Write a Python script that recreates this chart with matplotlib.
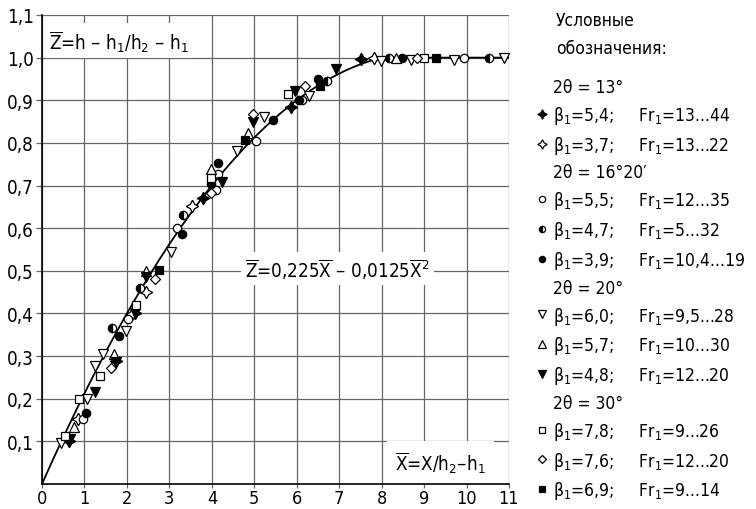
import matplotlib
matplotlib.use('Agg')
import matplotlib.pyplot as plt
from matplotlib import font_manager
from matplotlib.font_manager import FontProperties
from matplotlib.lines import Line2D
import numpy as np

# --- данные ---
# 2θ = 13°
x_54 = [0.63, 1.74, 2.18, 3.80, 5.87, 7.52]
z_54 = [0.102, 0.289, 0.401, 0.671, 0.885, 0.996]
x_37 = [0.84, 2.11, 2.46, 3.54, 7.81]
z_37 = [0.153, 0.399, 0.450, 0.652, 1.000]
# 2θ = 16°20'
x_55 = [0.96, 2.03, 3.17, 4.14, 4.11, 5.04, 6.13, 9.95]
z_55 = [0.153, 0.388, 0.601, 0.727, 0.690, 0.805, 0.900, 1.000]
x_47 = [1.65, 2.32, 3.31, 6.71, 8.17, 10.52]
z_47 = [0.365, 0.459, 0.630, 0.945, 1.000, 1.000]
x_39 = [1.04, 1.81, 3.30, 3.99, 4.15, 5.45, 6.05, 6.49, 8.49]
z_39 = [0.166, 0.348, 0.587, 0.704, 0.754, 0.854, 0.900, 0.951, 1.000]
# 2θ = 20°
x_60 = [0.44, 1.07, 1.26, 1.44, 1.99, 3.04, 4.59, 5.24, 6.29, 7.99, 8.68, 9.70, 10.89]
z_60 = [0.097, 0.199, 0.277, 0.304, 0.360, 0.543, 0.780, 0.861, 0.910, 0.992, 0.995, 0.995, 0.998]
x_57 = [0.75, 1.69, 2.45, 3.98, 4.85, 8.33]
z_57 = [0.134, 0.304, 0.499, 0.739, 0.823, 1.000]
x_48 = [0.67, 1.26, 1.74, 2.19, 2.45, 4.24, 4.98, 5.97, 6.92]
z_48 = [0.106, 0.215, 0.287, 0.402, 0.485, 0.708, 0.850, 0.922, 0.973]
# 2θ = 30°
x_78 = [0.55, 0.87, 1.36, 2.22, 3.98, 5.80, 8.99]
z_78 = [0.113, 0.199, 0.253, 0.421, 0.718, 0.915, 1.000]
x_76 = [1.63, 2.67, 3.98, 4.98, 6.20, 8.83]
z_76 = [0.272, 0.480, 0.682, 0.868, 0.933, 1.000]
x_69 = [2.76, 4.78, 6.54, 9.29]
z_69 = [0.502, 0.806, 0.934, 1.000]

# аппроксимация Z = a*X - b*X^2 (дальше Z = 1)
coef_a = 0.225
coef_b = 0.0125

x_ticks = list(range(0, 12))
y_ticks = [0.1, 0.2, 0.3, 0.4, 0.5, 0.6, 0.7, 0.8, 0.9, 1.0, 1.1]
y_ticklabels = ['0,1', '0,2', '0,3', '0,4', '0,5', '0,6', '0,7', '0,8', '0,9', '1,0', '1,1']

# шрифт: узкий, если есть
fam = 'DejaVu Sans'
path = font_manager.findfont(FontProperties(family=fam, stretch='condensed'))
if 'Condensed' in path:
    plt.rcParams['font.stretch'] = 'condensed'
    fs = 13.5
    lfs = 12.5
else:
    fs = 12
    lfs = 11
plt.rcParams['font.family'] = [fam]
plt.rcParams['mathtext.fontset'] = 'dejavusans'

fig = plt.figure(figsize=(7.56, 5.1), dpi=100)
ax = fig.add_axes([42 / 756, 1 - 485 / 510, 467 / 756, 469 / 510])

# кривая
X = np.linspace(0, 11, 400)
Xc = np.minimum(X, 9)
Z = np.minimum(coef_a * Xc - coef_b * Xc ** 2, 1.0)
ax.plot(X, Z, color='black', linewidth=1.3, zorder=3)

k = dict(color='black', linestyle='none', markeredgecolor='black', markeredgewidth=0.9, zorder=4)
series = [
    (x_54, z_54, dict(marker=(4, 1, 0), markersize=9, markerfacecolor='black')),
    (x_37, z_37, dict(marker=(4, 1, 0), markersize=9, markerfacecolor='white')),
    (x_55, z_55, dict(marker='o', markersize=6, markerfacecolor='white')),
    (x_47, z_47, dict(marker='o', markersize=6, fillstyle='left', markerfacecolor='black',
                      markerfacecoloralt='white')),
    (x_39, z_39, dict(marker='o', markersize=6, markerfacecolor='black')),
    (x_60, z_60, dict(marker='v', markersize=7, markerfacecolor='white')),
    (x_57, z_57, dict(marker='^', markersize=7, markerfacecolor='white')),
    (x_48, z_48, dict(marker='v', markersize=7, markerfacecolor='black')),
    (x_78, z_78, dict(marker='s', markersize=6, markerfacecolor='white')),
    (x_76, z_76, dict(marker='D', markersize=5.5, markerfacecolor='white')),
    (x_69, z_69, dict(marker='s', markersize=6, markerfacecolor='black')),
]
gap = '     '
labels = [
    'β$_1$=5,4;' + gap + 'Fr$_1$=13...44',
    'β$_1$=3,7;' + gap + 'Fr$_1$=13...22',
    'β$_1$=5,5;' + gap + 'Fr$_1$=12...35',
    'β$_1$=4,7;' + gap + 'Fr$_1$=5...32',
    'β$_1$=3,9;' + gap + 'Fr$_1$=10,4...19',
    'β$_1$=6,0;' + gap + 'Fr$_1$=9,5...28',
    'β$_1$=5,7;' + gap + 'Fr$_1$=10...30',
    'β$_1$=4,8;' + gap + 'Fr$_1$=12...20',
    'β$_1$=7,8;' + gap + 'Fr$_1$=9...26',
    'β$_1$=7,6;' + gap + 'Fr$_1$=12...20',
    'β$_1$=6,9;' + gap + 'Fr$_1$=9...14',
]
handles = []
for (xs, zs, st), lab in zip(series, labels):
    h, = ax.plot(xs, zs, label=lab, **k, **st)
    handles.append(h)

# оси
ax.set_xlim(0, 11)
ax.set_ylim(0, 1.1)
ax.set_xticks(x_ticks)
ax.set_xticklabels([str(t) for t in x_ticks])
ax.set_yticks(y_ticks)
ax.set_yticklabels(y_ticklabels)
ax.tick_params(labelsize=fs, length=4, width=0.9, color='#666666', pad=2)
ax.tick_params(axis='x', labelsize=13, length=3, pad=0.5)
ax.grid(True, color='#666666', linewidth=0.9, zorder=0)
ax.set_axisbelow(True)
for s in ['top', 'right']:
    ax.spines[s].set_visible(False)
for s in ['left', 'bottom']:
    ax.spines[s].set_linewidth(1.2)

box = dict(facecolor='white', edgecolor='none', pad=3)
ax.text(0.16, 1.04, r'$\overline{\mathrm{Z}}$=h – h$_1$/h$_2$ – h$_1$', fontsize=fs,
        ha='left', va='center', bbox=box, zorder=5)
ax.text(6.96, 0.505, r'$\overline{\mathrm{Z}}$=0,225$\overline{\mathrm{X}}$ – 0,0125$\overline{\mathrm{X}}^2$',
        fontsize=fs, ha='center', va='center', bbox=box, zorder=5)
ax.text(9.39, 0.052, r'$\overline{\mathrm{X}}$=X/h$_2$–h$_1$', fontsize=fs,
        ha='center', va='center', bbox=dict(facecolor='white', edgecolor='none', pad=6), zorder=5)

# условные обозначения
fig.text(556 / 756, 1 - 21 / 510, 'Условные', fontsize=lfs, ha='left', va='center')
fig.text(556 / 756, 1 - 49 / 510, 'обозначения:', fontsize=lfs, ha='left', va='center')
blank = lambda t: Line2D([], [], linestyle='none', marker=None, label=t)
leg_handles = [blank('2θ = 13°')] + handles[0:2] + [blank('2θ = 16°20′')] + handles[2:5] + \
              [blank('2θ = 20°')] + handles[5:8] + [blank('2θ = 30°')] + handles[8:11]
leg = fig.legend(handles=leg_handles, loc='upper left', bbox_to_anchor=(537 / 756, 1 - 79 / 510),
                 frameon=False, fontsize=lfs, handlelength=0.6, handletextpad=0.35,
                 labelspacing=0.45, borderpad=0, borderaxespad=0, markerscale=0.75)

fig.savefig('out.png', dpi=100)
